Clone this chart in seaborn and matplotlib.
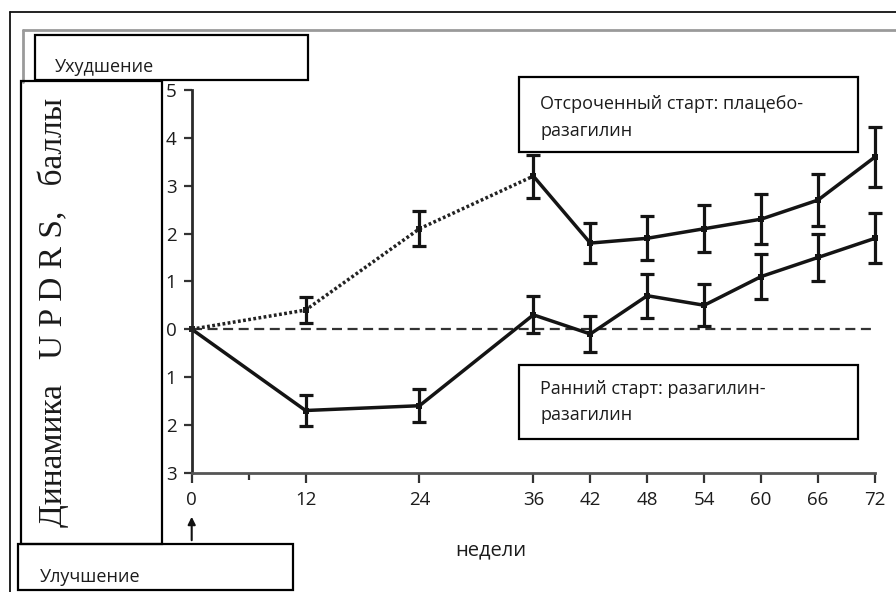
import matplotlib
matplotlib.use("Agg")
import matplotlib.pyplot as plt
import seaborn as sns
import pandas as pd
from matplotlib.patches import Rectangle, FancyArrowPatch
from matplotlib.lines import Line2D

# ---------------- data ----------------
weeks = [0, 12, 24, 36, 42, 48, 54, 60, 66, 72]
early_mean = [0, -1.7, -1.6, 0.3, -0.1, 0.7, 0.5, 1.1, 1.5, 1.9]
early_err = [0, 0.33, 0.34, 0.39, 0.38, 0.46, 0.44, 0.47, 0.50, 0.52]
delayed_mean = [0, 0.4, 2.1, 3.2, 1.8, 1.9, 2.1, 2.3, 2.7, 3.6]
delayed_err = [0, 0.28, 0.37, 0.45, 0.42, 0.46, 0.49, 0.52, 0.54, 0.62]
switch_week = 36

xticks = [0, 12, 24, 36, 42, 48, 54, 60, 66, 72]
xtick_labels = ["0", "12", "24", "36", "42", "48", "54", "60", "66", "72"]
minor_xticks = [6]
yticks = [-3, -2, -1, 0, 1, 2, 3, 4, 5]
ytick_labels = ["3", "2", "1", "0", "1", "2", "3", "4", "5"]

ylabel = "Динамика   U P D R S,   баллы"
xlabel = "недели"
worse_label = "Ухудшение"
better_label = "Улучшение"
delayed_label = "Отсроченный старт: плацебо-\nразагилин"
early_label = "Ранний старт: разагилин-\nразагилин"

# ---------------- style ----------------
sns.set_theme(style="white")
plt.rcParams['font.family'] = ['Open Sans', 'DejaVu Sans']

W, H = 896, 592
fig = plt.figure(figsize=(W / 100, H / 100), dpi=100)
fig.patch.set_facecolor("white")


def fx(px):
    return px / W


def fy(py):
    return 1 - py / H


ax = fig.add_axes([fx(191.7), fy(472.7), fx(875) - fx(191.7), fy(90) - fy(472.7)])
ax.set_facecolor("none")

ink = "#141414"
txt = "#1c1c1c"

# zero reference line
ax.axhline(0, color="#333333", lw=1.6, ls=(0, (4.5, 2.5)), zorder=1)

# early start (solid)
df_early = pd.DataFrame({"week": weeks, "value": early_mean, "err": early_err})
sns.lineplot(data=df_early, x="week", y="value", ax=ax, color=ink, lw=2.5,
             marker="s", markersize=4.5, markeredgewidth=0, zorder=3, clip_on=False)
e = df_early[df_early.err > 0]
ax.errorbar(e.week, e.value, yerr=e.err, fmt="none", ecolor=ink,
            elinewidth=2.3, capsize=5, capthick=2.3, zorder=3, clip_on=False)

# delayed start: dotted (placebo) then solid (rasagiline)
df_del = pd.DataFrame({"week": weeks, "value": delayed_mean, "err": delayed_err})
pre = df_del[df_del.week <= switch_week]
post = df_del[df_del.week >= switch_week]
sns.lineplot(data=pre, x="week", y="value", ax=ax, color="#222222", lw=2.5,
             linestyle=(0, (0.8, 0.7)), marker="s", markersize=4.5,
             markeredgewidth=0, zorder=3, clip_on=False)
sns.lineplot(data=post, x="week", y="value", ax=ax, color=ink, lw=2.5,
             marker="s", markersize=4.5, markeredgewidth=0, zorder=3, clip_on=False)
d = df_del[df_del.err > 0]
ax.errorbar(d.week, d.value, yerr=d.err, fmt="none", ecolor=ink,
            elinewidth=2.3, capsize=5, capthick=2.3, zorder=3, clip_on=False)

# axes
ax.set_xlim(0, 72)
ax.set_ylim(-3, 5)
ax.set_xticks(xticks)
ax.set_xticklabels(xtick_labels)
ax.set_xticks(minor_xticks, minor=True)
ax.set_yticks(yticks)
ax.set_yticklabels(ytick_labels)
for s in ["top", "right"]:
    ax.spines[s].set_visible(False)
ax.spines["left"].set_color("#2a2a2a")
ax.spines["left"].set_linewidth(2)
ax.spines["bottom"].set_color("#555555")
ax.spines["bottom"].set_linewidth(2)
ax.tick_params(axis="x", which="major", bottom=True, direction="out", length=7,
               width=1.6, color="#333333", labelsize=13.5, labelcolor=txt, pad=6)
ax.tick_params(axis="x", which="minor", bottom=True, direction="out", length=5,
               width=1.6, color="#333333")
ax.tick_params(axis="y", left=True, direction="out", length=6, width=1.6,
               color="#333333", labelsize=13.5, labelcolor=txt, pad=5)
ax.set_xlabel(xlabel, fontsize=14.5, color=txt)
ax.xaxis.set_label_coords((491 - 191.7) / 683.3, (472.7 - 550) / 382.7)
ax.xaxis.label.set_va("center")
ax.set_ylabel("")

# ---------------- decorations ----------------
def frect(x0, y0, x1, y1, lw=1.6, ec="black", fc="none", z=5):
    r = Rectangle((fx(x0), fy(y1)), fx(x1) - fx(x0), fy(y0) - fy(y1),
                  transform=fig.transFigure, lw=lw, ec=ec, fc=fc, zorder=z)
    fig.add_artist(r)


def fline(xs, ys, lw=1.2, color="black"):
    fig.add_artist(Line2D([fx(x) for x in xs], [fy(y) for y in ys],
                          transform=fig.transFigure, lw=lw, color=color))


# outer frames
fline([10, 896], [12, 12], lw=1.3, color="#111111")
fline([10, 10], [12, 592], lw=1.3, color="#111111")
fline([23, 896], [29.5, 29.5], lw=2.0, color="#9a9a9a")
fline([23, 23], [29.5, 82], lw=2.0, color="#9a9a9a")

# label boxes
frect(35, 35, 308, 80)
frect(21, 81, 162, 544)
frect(18, 544, 293, 590)
frect(519, 77, 858, 152, fc="white")
frect(519, 365, 858, 439, fc="white")

fig.text(fx(55), fy(72), worse_label, fontsize=13, color=txt, va="baseline")
fig.text(fx(40), fy(582), better_label, fontsize=13, color=txt, va="baseline")
fig.text(fx(540), fy(95), delayed_label, fontsize=13, color=txt,
         va="top", linespacing=1.65, zorder=6)
fig.text(fx(540), fy(380), early_label, fontsize=13, color=txt,
         va="top", linespacing=1.6, zorder=6)
fig.text(fx(53), fy(312), ylabel, rotation=90, fontsize=24, color="#1a1a1a",
         family=["Liberation Serif", "DejaVu Serif"], ha="center", va="center")

# arrow pointing to improvement / worsening direction
arr = FancyArrowPatch((fx(191.7), fy(543)), (fx(191.7), fy(514)),
                      transform=fig.transFigure, arrowstyle="-|>",
                      mutation_scale=11, lw=1.5, color="#111111")
fig.add_artist(arr)

fig.savefig("out.png", dpi=100, facecolor="white")
